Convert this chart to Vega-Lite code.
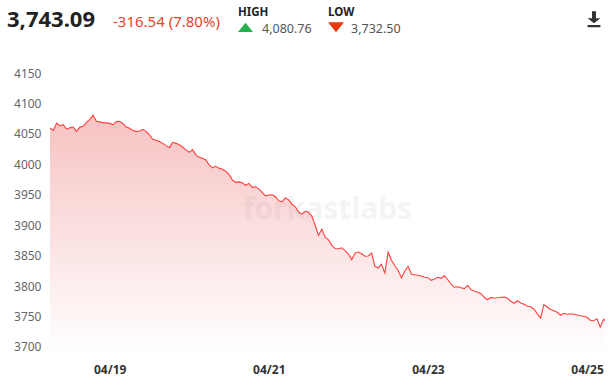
{
  "$schema": "https://vega.github.io/schema/vega-lite/v6.json",
  "background": "white",
  "padding": {"left": 0, "top": 7, "right": 0, "bottom": 8},
  "config": {"view": {"stroke": null}, "font": "Noto Sans", "axis": {"labelOverlap": false, "labelSeparation": 0}},
  "datasets": {
    "prices": [
      {"t":"2023-04-18T06:00","v":4059.63},{"t":"2023-04-18T07:00","v":4055.9},{"t":"2023-04-18T08:00","v":4067.9},{"t":"2023-04-18T09:00","v":4063.6},{"t":"2023-04-18T10:00","v":4065.2},{"t":"2023-04-18T11:00","v":4058.0},{"t":"2023-04-18T12:00","v":4060.0},{"t":"2023-04-18T13:00","v":4061.3},{"t":"2023-04-18T14:00","v":4054.2},{"t":"2023-04-18T15:00","v":4061.3},{"t":"2023-04-18T16:00","v":4062.5},{"t":"2023-04-18T17:00","v":4069.0},{"t":"2023-04-18T18:00","v":4074.0},{"t":"2023-04-18T19:00","v":4080.76},{"t":"2023-04-18T20:00","v":4070.7},{"t":"2023-04-18T21:00","v":4069.8},{"t":"2023-04-18T22:00","v":4068.5},{"t":"2023-04-18T23:00","v":4068.2},
      {"t":"2023-04-19T00:00","v":4067.4},{"t":"2023-04-19T01:00","v":4064.9},{"t":"2023-04-19T02:00","v":4070.2},{"t":"2023-04-19T03:00","v":4070.7},{"t":"2023-04-19T04:00","v":4067.4},{"t":"2023-04-19T05:00","v":4061.3},{"t":"2023-04-19T06:00","v":4059.2},{"t":"2023-04-19T07:00","v":4055.9},{"t":"2023-04-19T08:00","v":4053.9},{"t":"2023-04-19T09:00","v":4054.8},{"t":"2023-04-19T10:00","v":4057.5},{"t":"2023-04-19T11:00","v":4054.2},{"t":"2023-04-19T12:00","v":4048.5},{"t":"2023-04-19T13:00","v":4041.1},{"t":"2023-04-19T14:00","v":4039.5},{"t":"2023-04-19T15:00","v":4037.5},{"t":"2023-04-19T16:00","v":4034.5},{"t":"2023-04-19T17:00","v":4030.8},{"t":"2023-04-19T18:00","v":4027.5},{"t":"2023-04-19T19:00","v":4036.2},{"t":"2023-04-19T20:00","v":4034.5},{"t":"2023-04-19T21:00","v":4032.1},{"t":"2023-04-19T22:00","v":4028.5},{"t":"2023-04-19T23:00","v":4023.9},
      {"t":"2023-04-20T00:00","v":4019.8},{"t":"2023-04-20T01:00","v":4024.2},{"t":"2023-04-20T02:00","v":4015.6},{"t":"2023-04-20T03:00","v":4011.5},{"t":"2023-04-20T04:00","v":4009.9},{"t":"2023-04-20T05:00","v":4007.1},{"t":"2023-04-20T06:00","v":3999.2},{"t":"2023-04-20T07:00","v":3994.3},{"t":"2023-04-20T08:00","v":3996.8},{"t":"2023-04-20T09:00","v":3993.8},{"t":"2023-04-20T10:00","v":3991.8},{"t":"2023-04-20T11:00","v":3988.6},{"t":"2023-04-20T12:00","v":3983.6},{"t":"2023-04-20T13:00","v":3974.6},{"t":"2023-04-20T14:00","v":3970.5},{"t":"2023-04-20T15:00","v":3971.2},{"t":"2023-04-20T16:00","v":3969.7},{"t":"2023-04-20T17:00","v":3965.6},{"t":"2023-04-20T18:00","v":3968.8},{"t":"2023-04-20T19:00","v":3962.3},{"t":"2023-04-20T20:00","v":3963.0},{"t":"2023-04-20T21:00","v":3959.8},{"t":"2023-04-20T22:00","v":3954.1},{"t":"2023-04-20T23:00","v":3948.3},
      {"t":"2023-04-21T00:00","v":3949.6},{"t":"2023-04-21T01:00","v":3950.0},{"t":"2023-04-21T02:00","v":3946.7},{"t":"2023-04-21T03:00","v":3940.1},{"t":"2023-04-21T04:00","v":3938.5},{"t":"2023-04-21T05:00","v":3944.7},{"t":"2023-04-21T06:00","v":3941.7},{"t":"2023-04-21T07:00","v":3934.4},{"t":"2023-04-21T08:00","v":3930.2},{"t":"2023-04-21T09:00","v":3921.2},{"t":"2023-04-21T10:00","v":3918.4},{"t":"2023-04-21T11:00","v":3922.9},{"t":"2023-04-21T12:00","v":3921.5},{"t":"2023-04-21T13:00","v":3914.7},{"t":"2023-04-21T14:00","v":3899.9},{"t":"2023-04-21T15:00","v":3883.4},{"t":"2023-04-21T16:00","v":3893.3},{"t":"2023-04-21T17:00","v":3880.2},{"t":"2023-04-21T18:00","v":3876.1},{"t":"2023-04-21T19:00","v":3867.0},{"t":"2023-04-21T20:00","v":3861.6},{"t":"2023-04-21T21:00","v":3861.3},{"t":"2023-04-21T22:00","v":3862.9},{"t":"2023-04-21T23:00","v":3858.3},
      {"t":"2023-04-22T00:00","v":3852.7},{"t":"2023-04-22T01:00","v":3843.5},{"t":"2023-04-22T02:00","v":3853.9},{"t":"2023-04-22T03:00","v":3856.0},{"t":"2023-04-22T04:00","v":3853.1},{"t":"2023-04-22T05:00","v":3849.0},{"t":"2023-04-22T06:00","v":3849.5},{"t":"2023-04-22T07:00","v":3854.4},{"t":"2023-04-22T08:00","v":3832.5},{"t":"2023-04-22T09:00","v":3829.7},{"t":"2023-04-22T10:00","v":3835.8},{"t":"2023-04-22T11:00","v":3821.5},{"t":"2023-04-22T12:00","v":3856.0},{"t":"2023-04-22T13:00","v":3842.4},{"t":"2023-04-22T14:00","v":3833.4},{"t":"2023-04-22T15:00","v":3826.0},{"t":"2023-04-22T16:00","v":3813.3},{"t":"2023-04-22T17:00","v":3824.3},{"t":"2023-04-22T18:00","v":3832.5},{"t":"2023-04-22T19:00","v":3819.9},{"t":"2023-04-22T20:00","v":3818.6},{"t":"2023-04-22T21:00","v":3817.8},{"t":"2023-04-22T22:00","v":3816.4},{"t":"2023-04-22T23:00","v":3814.5},
      {"t":"2023-04-23T00:00","v":3813.8},{"t":"2023-04-23T01:00","v":3809.5},{"t":"2023-04-23T02:00","v":3811.5},{"t":"2023-04-23T03:00","v":3814.5},{"t":"2023-04-23T04:00","v":3812.8},{"t":"2023-04-23T05:00","v":3816.9},{"t":"2023-04-23T06:00","v":3810.4},{"t":"2023-04-23T07:00","v":3803.0},{"t":"2023-04-23T08:00","v":3798.0},{"t":"2023-04-23T09:00","v":3798.9},{"t":"2023-04-23T10:00","v":3797.2},{"t":"2023-04-23T11:00","v":3795.9},{"t":"2023-04-23T12:00","v":3801.3},{"t":"2023-04-23T13:00","v":3793.9},{"t":"2023-04-23T14:00","v":3792.0},{"t":"2023-04-23T15:00","v":3789.8},{"t":"2023-04-23T16:00","v":3787.4},{"t":"2023-04-23T17:00","v":3781.6},{"t":"2023-04-23T18:00","v":3777.5},{"t":"2023-04-23T19:00","v":3781.3},{"t":"2023-04-23T20:00","v":3780.5},{"t":"2023-04-23T21:00","v":3780.8},{"t":"2023-04-23T22:00","v":3781.6},{"t":"2023-04-23T23:00","v":3782.1},
      {"t":"2023-04-24T00:00","v":3780.0},{"t":"2023-04-24T01:00","v":3775.1},{"t":"2023-04-24T02:00","v":3771.8},{"t":"2023-04-24T03:00","v":3775.9},{"t":"2023-04-24T04:00","v":3772.3},{"t":"2023-04-24T05:00","v":3770.1},{"t":"2023-04-24T06:00","v":3766.8},{"t":"2023-04-24T07:00","v":3766.0},{"t":"2023-04-24T08:00","v":3761.9},{"t":"2023-04-24T09:00","v":3754.2},{"t":"2023-04-24T10:00","v":3747.6},{"t":"2023-04-24T11:00","v":3769.6},{"t":"2023-04-24T12:00","v":3765.7},{"t":"2023-04-24T13:00","v":3761.6},{"t":"2023-04-24T14:00","v":3759.5},{"t":"2023-04-24T15:00","v":3757.0},{"t":"2023-04-24T16:00","v":3752.1},{"t":"2023-04-24T17:00","v":3755.3},{"t":"2023-04-24T18:00","v":3753.7},{"t":"2023-04-24T19:00","v":3754.5},{"t":"2023-04-24T20:00","v":3753.7},{"t":"2023-04-24T21:00","v":3752.4},{"t":"2023-04-24T22:00","v":3751.1},{"t":"2023-04-24T23:00","v":3750.4},
      {"t":"2023-04-25T00:00","v":3748.8},{"t":"2023-04-25T01:00","v":3743.8},{"t":"2023-04-25T02:00","v":3743.0},{"t":"2023-04-25T03:00","v":3746.3},{"t":"2023-04-25T04:00","v":3732.5},{"t":"2023-04-25T05:00","v":3745.5},{"t":"2023-04-25T05:25","v":3743.09}
    ]
  },
  "columns": 1,
  "spacing": {"row": 31, "column": 0},
  "concat": [
    {
      "spacing": 0,
      "bounds": "flush",
      "hconcat": [
        {"width": 45, "height": 17, "data": {"values": []}, "mark": "text"},
        {
          "width": 18, "height": 17,
          "encoding": {
            "x": {"field": "part", "type": "nominal", "scale": {"type": "point", "domain": ["price", "change"], "padding": 0}, "axis": null},
            "y": {"field": "row", "type": "nominal", "scale": {"type": "point", "domain": ["label", "pad", "mid", "value"], "padding": 0}, "axis": null}
          },
          "layer": [
            {"data": {"values": [{"part": "price", "row": "mid", "label": "3,743.09"}]},
             "mark": {"type": "text", "align": "right", "baseline": "alphabetic", "fontSize": 22, "fontWeight": "bold", "color": "#222222"},
             "encoding": {"text": {"field": "label"}}},
            {"data": {"values": [{"part": "change", "row": "mid", "label": "-316.54 (7.80%)"}]},
             "mark": {"type": "text", "align": "left", "baseline": "alphabetic", "fontSize": 15, "color": "#e8412c"},
             "encoding": {"text": {"field": "label"}}}
          ]
        },
        {"width": 125, "height": 17, "data": {"values": []}, "mark": "text"},
        {
          "width": 24, "height": 17,
          "encoding": {
            "x": {"field": "part", "type": "nominal", "scale": {"type": "point", "domain": ["lead", "text"], "padding": 0}, "axis": null},
            "y": {"field": "row", "type": "nominal", "scale": {"type": "point", "domain": ["label", "pad", "mid", "value"], "padding": 0}, "axis": null}
          },
          "layer": [
            {"data": {"values": [{"part": "lead", "row": "label", "label": "HIGH"}]},
             "mark": {"type": "text", "align": "left", "baseline": "alphabetic", "fontSize": 11.5, "fontWeight": "bold", "color": "#222222"},
             "encoding": {"text": {"field": "label"}}},
            {"data": {"values": [{"part": "lead", "row": "mid", "label": "high"}]},
             "mark": {"type": "point", "shape": "M0,0.62L2,0.62L1,-0.62Z", "size": 225, "filled": true, "opacity": 1, "color": "#22b14c", "strokeWidth": 0}},
            {"data": {"values": [{"part": "text", "row": "value", "label": "4,080.76"}]},
             "mark": {"type": "text", "align": "left", "baseline": "alphabetic", "fontSize": 12.5, "color": "#555555"},
             "encoding": {"text": {"field": "label"}}}
          ]
        },
        {"width": 66, "height": 17, "data": {"values": []}, "mark": "text"},
        {
          "width": 23, "height": 17,
          "encoding": {
            "x": {"field": "part", "type": "nominal", "scale": {"type": "point", "domain": ["lead", "end"], "padding": 0}, "axis": null},
            "y": {"field": "row", "type": "nominal", "scale": {"type": "point", "domain": ["label", "pad", "mid", "value"], "padding": 0}, "axis": null}
          },
          "layer": [
            {"data": {"values": [{"part": "lead", "row": "label", "label": "LOW"}]},
             "mark": {"type": "text", "align": "left", "baseline": "alphabetic", "fontSize": 11.5, "fontWeight": "bold", "color": "#222222"},
             "encoding": {"text": {"field": "label"}}},
            {"data": {"values": [{"part": "lead", "row": "mid", "label": "low"}]},
             "mark": {"type": "point", "shape": "M0,-0.62L2,-0.62L1,0.62Z", "size": 256, "filled": true, "opacity": 1, "color": "#e8380d", "strokeWidth": 0}}
          ]
        },
        {
          "width": 243, "height": 17,
          "encoding": {
            "x": {"field": "part", "type": "nominal", "scale": {"type": "point", "domain": ["text", "icon"], "padding": 0}, "axis": null},
            "y": {"field": "row", "type": "nominal", "scale": {"type": "point", "domain": ["label", "pad", "mid", "value"], "padding": 0}, "axis": null}
          },
          "layer": [
            {"data": {"values": [{"part": "text", "row": "value", "label": "3,732.50"}]},
             "mark": {"type": "text", "align": "left", "baseline": "alphabetic", "fontSize": 12.5, "color": "#555555"},
             "encoding": {"text": {"field": "label"}}},
            {"data": {"values": [{"part": "icon", "row": "mid", "label": "download"}]},
             "mark": {"type": "point", "shape": "M-0.25,-2L0.25,-2L0.25,-1.15L0.8,-1.15L0,-0.5L-0.8,-1.15L-0.25,-1.15Z M-0.8,-0.3L0.8,-0.3L0.8,0L-0.8,0Z", "size": 256, "filled": true, "opacity": 1, "color": "#333333", "strokeWidth": 0}}
          ]
        }
      ]
    },
    {
      "width": 555,
      "height": 286,
      "encoding": {
        "x": {"field": "t", "type": "temporal",
              "scale": {"domain": [{"year": 2023, "month": 4, "date": 18, "hours": 6}, {"year": 2023, "month": 4, "date": 25, "hours": 5, "minutes": 25}]},
              "axis": {"values": [{"year": 2023, "month": 4, "date": 19}, {"year": 2023, "month": 4, "date": 21}, {"year": 2023, "month": 4, "date": 23}, {"year": 2023, "month": 4, "date": 25}],
                       "format": "%m/%d", "title": null, "grid": false, "ticks": false, "tickSize": 0, "domain": false, "labelOverlap": false,
                       "labelFontSize": 12, "labelFontWeight": "bold", "labelColor": "#333333", "labelPadding": 11, "labelFlush": false}},
        "y": {"field": "v", "type": "quantitative",
              "scale": {"domain": [3690, 4160], "zero": false, "nice": false},
              "axis": {"values": [3700, 3750, 3800, 3850, 3900, 3950, 4000, 4050, 4100, 4150], "format": "d", "title": null, "grid": false, "ticks": false, "tickSize": 0, "domain": false, "labelOverlap": false,
                       "labelFontSize": 12, "labelColor": "#666666", "labelPadding": 9, "minExtent": 50}}
      },
      "layer": [
        {
          "data": {"name": "prices"},
          "mark": {"type": "area", "color": {"gradient": "linear", "x1": 0, "y1": 0, "x2": 0, "y2": 1, "stops": [{"offset": 0, "color": "#f7c2c2"}, {"offset": 1, "color": "#ffffff"}]}},
          "encoding": {"y2": {"datum": 3690}}
        },
        {
          "data": {"values": [{"label": "forkastlabs"}]},
          "mark": {"type": "text", "fontSize": 30, "fontWeight": "bold", "color": "#777777", "opacity": 0.07, "baseline": "middle", "align": "center"},
          "encoding": {"text": {"field": "label"}, "x": null, "y": null}
        },
        {
          "data": {"name": "prices"},
          "mark": {"type": "line", "color": "#ff3f3f", "strokeWidth": 1.1}
        }
      ]
    }
  ]
}
